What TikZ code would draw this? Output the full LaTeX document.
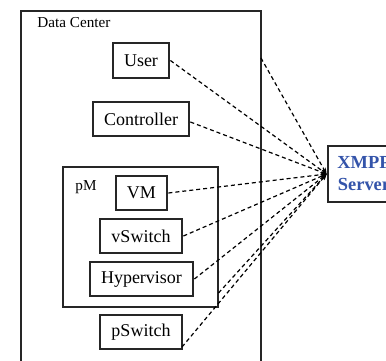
\documentclass[tikz,border=0pt]{standalone}
\usepackage{fontspec}
\setmainfont{Liberation Serif}
\usetikzlibrary{arrows.meta}
\definecolor{srvblue}{RGB}{52,84,170}
\begin{document}
\begin{tikzpicture}[x=0.5pt,y=-0.5pt,
  box/.style={draw=black!85,line width=1.4pt,fill=white,inner sep=0pt,
    font=\fontsize{9}{11}\selectfont},
  container/.style={draw=black!85,line width=1.3pt,inner sep=0pt},
  lbl/.style={inner sep=0pt,anchor=west,font=\fontsize{7.6}{9}\selectfont},
  link/.style={dashed,dash pattern=on 2pt off 1.5pt,line width=0.6pt,
    -{Stealth[length=3pt,width=2.4pt]}}]
\useasboundingbox (0,0) rectangle (386,360);
\clip (0,0) rectangle (386,360);
\fill[white] (0,0) rectangle (386,360);
% containers
\node[container,minimum width=120pt,minimum height=184.5pt] (dc) at (141,195.5) {};
\node[lbl] (dclbl) at (37,23) {Data Center};
\node[container,minimum width=77.5pt,minimum height=70pt] (pM) at (140.5,237) {};
\node[lbl] (pMlbl) at (75,187) {pM};
% boxes
\node[box,minimum width=28pt,minimum height=17.5pt] (user) at (141,60.5) {User};
\node[box,minimum width=48pt,minimum height=17pt] (ctrl) at (141,119) {Controller};
\node[box,minimum width=25.5pt,minimum height=17pt] (vm) at (141.5,193) {VM};
\node[box,minimum width=41pt,minimum height=17pt] (vsw) at (141,236) {vSwitch};
\node[box,minimum width=51.5pt,minimum height=17pt] (hyp) at (141.5,279) {Hypervisor};
\node[box,minimum width=41pt,minimum height=17pt] (psw) at (141,332) {pSwitch};
% server (cut off at the right edge, as in the reference)
\node[box,minimum width=36pt,minimum height=28pt,align=center,text=srvblue,
  font=\fontsize{9.2}{11}\selectfont\bfseries] (srv) at (364,174) {XMPP\\Server};
% connection points on container borders
\coordinate (dcout) at (261,58);
\coordinate (pMout) at (218.5,293);
\coordinate (pswout) at (182,347);
% connectors
\draw[link] (dcout) -- (srv.west);
\draw[link] (user.east) -- (srv.west);
\draw[link] ([yshift=-1.5pt]ctrl.east) -- (srv.west);
\draw[link] (vm.east) -- (srv.west);
\draw[link] (vsw.east) -- (srv.west);
\draw[link] (hyp.east) -- (srv.west);
\draw[link] (pMout) -- (srv.west);
\draw[link] (pswout) -- (srv.west);
\end{tikzpicture}
\end{document}
